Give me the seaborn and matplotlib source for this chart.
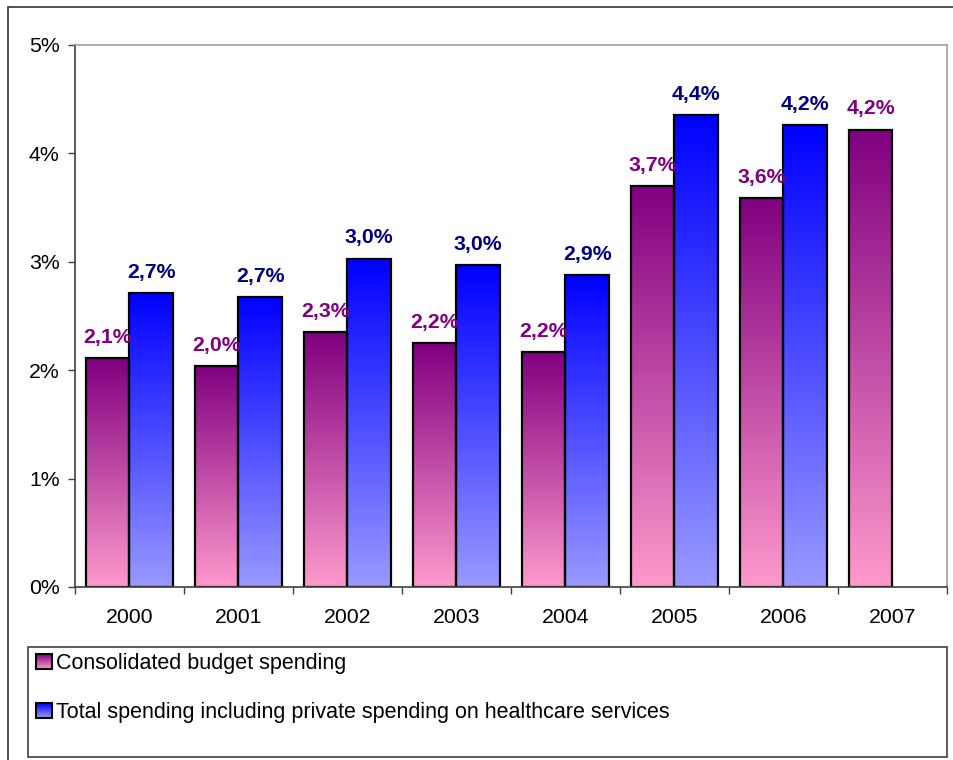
import numpy as np
import pandas as pd
import matplotlib
matplotlib.use("Agg")
import matplotlib.pyplot as plt
import seaborn as sns
from matplotlib.colors import LinearSegmentedColormap
from matplotlib.patches import Rectangle, Patch
from matplotlib.legend_handler import HandlerBase

# -----------------------------
# data (% of GDP)
# -----------------------------
years = ['2000', '2001', '2002', '2003', '2004', '2005', '2006', '2007']
consolidated = [2.11, 2.04, 2.35, 2.25, 2.17, 3.70, 3.59, 4.22]
total = [2.71, 2.675, 3.03, 2.97, 2.88, 4.35, 4.26, np.nan]
consolidated_labels = ['2,1%', '2,0%', '2,3%', '2,2%', '2,2%', '3,7%', '3,6%', '4,2%']
total_labels = ['2,7%', '2,7%', '3,0%', '3,0%', '2,9%', '4,4%', '4,2%', '']
y_ticks = [0, 1, 2, 3, 4, 5]
y_tick_labels = ['0%', '1%', '2%', '3%', '4%', '5%']

series_names = ['Consolidated budget spending',
                'Total spending including private spending on healthcare services']

# gradient colours (bottom, top) and label colours per series
grad_colors = {series_names[0]: ('#ff99cc', '#800080'),
               series_names[1]: ('#9999ff', '#0000ff')}
label_colors = {series_names[0]: '#800080', series_names[1]: '#000080'}

df = pd.DataFrame({
    'year': years * 2,
    'value': consolidated + total,
    'series': [series_names[0]] * len(years) + [series_names[1]] * len(years),
    'label': consolidated_labels + total_labels,
}).dropna(subset=['value'])

# -----------------------------
# figure
# -----------------------------
sns.set_theme(style='white')
plt.rcParams['font.family'] = ['Liberation Sans', 'DejaVu Sans']
plt.rcParams['text.color'] = 'black'

fig = plt.figure(figsize=(9.54, 7.6), dpi=100)
ax = fig.add_axes([75 / 954, 1 - 587 / 760, 872 / 954, 542 / 760])

palette = {s: grad_colors[s][1] for s in series_names}
sns.barplot(data=df, x='year', y='value', hue='series', order=years,
            hue_order=series_names, palette=palette, width=0.8, gap=0,
            edgecolor='black', linewidth=1.6, legend=False, ax=ax)

cmaps = {s: LinearSegmentedColormap.from_list(s, grad_colors[s]) for s in series_names}
grad = np.linspace(0, 1, 256).reshape(-1, 1)

# swap flat fill for a vertical gradient, add value labels
for container, name in zip(ax.containers, series_names):
    bars = [b for b in container.patches if np.isfinite(b.get_height()) and b.get_height() > 0]
    sub = df[df['series'] == name]
    for bar, lab in zip(bars, sub['label']):
        x0, w, h = bar.get_x(), bar.get_width(), bar.get_height()
        ax.imshow(grad, extent=[x0, x0 + w, 0, h], origin='lower', aspect='auto',
                  cmap=cmaps[name], zorder=bar.get_zorder() - 0.5, interpolation='bilinear')
        bar.set_facecolor('none')
        ax.annotate(lab, (x0 + w / 2, h), xytext=(0, 8), textcoords='offset points',
                    ha='center', va='bottom', fontsize=15.3, fontweight='bold',
                    color=label_colors[name], zorder=5)

ax.set_xlim(-0.5, len(years) - 0.5)
ax.set_ylim(0, 5)
ax.set_yticks(y_ticks)
ax.set_yticklabels(y_tick_labels)
ax.set_xlabel('')
ax.set_ylabel('')

# ticks: y outside left, x at category boundaries
ax.set_xticks(np.arange(-0.5, len(years)), minor=True)
ax.tick_params(axis='x', which='major', length=0, pad=15, labelsize=15.3, labelcolor='black')
ax.tick_params(axis='x', which='minor', length=5, width=1, color='#404040', direction='out', bottom=True)
ax.tick_params(axis='y', which='major', length=5, width=1, color='#404040', direction='out',
               left=True, pad=6, labelsize=15.3, labelcolor='black')

for side in ['left', 'bottom']:
    ax.spines[side].set_color('#404040')
    ax.spines[side].set_linewidth(1.2)
for side in ['top', 'right']:
    ax.spines[side].set_color('#a0a0a0')
    ax.spines[side].set_linewidth(1.2)
    ax.spines[side].set_visible(True)


# legend with gradient swatches
class GradientHandler(HandlerBase):
    def __init__(self, cmap):
        super().__init__()
        self.cmap = cmap

    def create_artists(self, legend, orig_handle, xdescent, ydescent, width, height, fontsize, trans):
        n = 24
        arts = []
        for i in range(n):
            arts.append(Rectangle((-xdescent, -ydescent + height * i / n), width, height / n * 1.05,
                                  facecolor=self.cmap(i / (n - 1)), edgecolor='none', transform=trans))
        arts.append(Rectangle((-xdescent, -ydescent), width, height, fill=False,
                              edgecolor='black', linewidth=1.5, transform=trans))
        return arts


handles = [Patch(label=s) for s in series_names]
fig.legend(handles=handles, labels=series_names,
           handler_map={h: GradientHandler(cmaps[s]) for h, s in zip(handles, series_names)},
           loc='upper left', bbox_to_anchor=(36 / 954, 1 - 653 / 760), frameon=False,
           fontsize=15.5, handlelength=0.75, handleheight=0.75, handletextpad=0.2,
           labelspacing=1.3, borderpad=0, borderaxespad=0, labelcolor='black')

# legend frame and outer chart border
fig.patches.append(Rectangle((28 / 954, 3 / 760), 919 / 954, 110 / 760, transform=fig.transFigure,
                             fill=False, edgecolor='#404040', linewidth=1.2))
fig.patches.append(Rectangle((8 / 954, -0.05), 1.1, 1 - 7 / 760 + 0.05, transform=fig.transFigure,
                             fill=False, edgecolor='#333333', linewidth=1.2))

fig.savefig('out.png', dpi=100)
